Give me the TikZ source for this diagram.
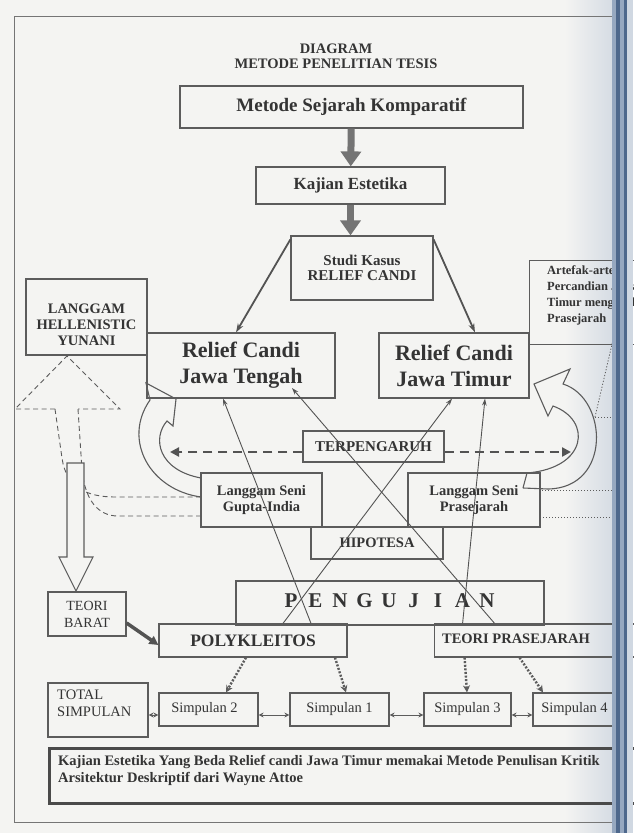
\documentclass[tikz,border=0pt]{standalone}
\usepackage{fontspec}
\setmainfont{Liberation Serif}
\usetikzlibrary{arrows.meta,calc}
\definecolor{bg}{RGB}{244,244,242}
\definecolor{ln}{RGB}{92,92,92}
\definecolor{tx}{RGB}{52,52,52}
\definecolor{edgeL}{RGB}{214,220,228}
\definecolor{edgeA}{RGB}{150,168,192}
\definecolor{edgeB}{RGB}{78,104,140}
\definecolor{edgeC}{RGB}{208,216,226}
\newcommand{\myfs}[2]{\fontsize{#1}{#2}\selectfont}
\begin{document}
\begin{tikzpicture}[x=1pt,y=-1pt,
  box/.style={draw=ln,line width=1.2pt,inner sep=0pt,align=center,text=tx},
  tb/.style={text=tx,inner sep=0pt,align=center},
  fat/.style={draw=ln!85,line width=7pt,-{Triangle[length=15pt,width=20pt]}},
  thin/.style={draw=ln!90!black,line width=0.9pt,-{Stealth[length=7pt,width=4.5pt]}},
  mid/.style={draw=ln!90!black,line width=1.8pt,-{Stealth[length=9pt,width=6pt]}},
  dsh/.style={draw=ln,line width=0.9pt,dash pattern=on 5pt off 3.5pt},
  dotl/.style={draw=ln,line width=0.8pt,dash pattern=on 1.2pt off 1.8pt},
  dotarr/.style={draw=ln,line width=2.4pt,dash pattern=on 2pt off 1.6pt,-{Stealth[length=7pt,width=7pt]}},
  dasharr/.style={draw=ln!90!black,line width=2.8pt,dash pattern=on 9pt off 6pt,-{Triangle[length=9pt,width=9pt]}},
  dbl/.style={draw=ln,line width=1pt,{Stealth[length=5pt,width=5pt]}-{Stealth[length=5pt,width=5pt]}},
  hollow/.style={draw=ln,line width=1.1pt},
  bold14/.style={font={\bfseries\myfs{14.5}{16}}},
]
\useasboundingbox (0,0) rectangle (633,833);
\fill[bg] (0,0) rectangle (633,833);
\shade[left color=bg,right color=edgeL] (565,0) rectangle (612,833);
\draw[ln!85,line width=1pt] (14,16) rectangle (625,822);

% dashed hollow arrow (Gupta -> Hellenistic)
\draw[dsh] (55,409) -- (15,409) -- (67,356) -- (120,409) -- (78,409);
\draw[dsh] (55,409) -- (62,458) .. controls (66,488) and (88,497) .. (115,497) -- (201,497);
\draw[dsh] (78,409) -- (82,470) .. controls (85,500) and (98,516) .. (118,516) -- (201,516);

% right dotted structure
\draw[dotl] (542,490) -- (617,490);
\draw[dotl] (540,517) -- (617,517);
\draw[dotl] (595,417) -- (617,417);
\draw[dotl] (595,417) -- (613,340);

% title
\node[tb,font={\bfseries\myfs{14.5}{15}}] (title) at (336,56) {DIAGRAM\\METODE PENELITIAN TESIS};

% boxes
\node[box,minimum width=343pt,minimum height=42pt,font={\bfseries\myfs{19}{21}}] (metode) at (351.5,107) {Metode Sejarah Komparatif};
\node[box,minimum width=189pt,minimum height=37pt,font={\bfseries\myfs{17}{18}}] (kajian) at (350.5,185.5) {Kajian Estetika};
\node[box,minimum width=142pt,minimum height=64pt,font={\bfseries\myfs{15}{15.5}}] (studi) at (362,268) {Studi Kasus\\RELIEF CANDI};

\node[box,minimum width=112pt,minimum height=84pt,anchor=north west] (artefak) at (529,260) {};
\node[tb,anchor=north west,align=left,font={\bfseries\myfs{12.5}{16}}] (artefaktxt) at (547,265) {Artefak-artefak\\Percandian Jawa\\Timur mengarah\\Prasejarah};

\node[box,minimum width=121pt,minimum height=76pt] (hellen) at (86.5,317) {};
\node[tb,bold14] (hellentxt) at (86.5,325) {LANGGAM\\HELLENISTIC\\YUNANI};

\node[box,minimum width=188pt,minimum height=65pt,font={\bfseries\myfs{22}{26}}] (tengah) at (241,365.5) {Relief Candi\\Jawa Tengah};
\node[box,minimum width=150pt,minimum height=65pt,font={\bfseries\myfs{22}{26}}] (timur) at (454,365.5) {Relief Candi\\Jawa Timur};

\node[box,minimum width=141pt,minimum height=31pt,font={\bfseries\myfs{15}{16}}] (terpeng) at (373.5,446.5) {TERPENGARUH};
\node[box,minimum width=121pt,minimum height=54pt,bold14] (gupta) at (261.5,500) {Langgam Seni\\Gupta-India};
\node[box,minimum width=132pt,minimum height=54pt,bold14] (pras) at (474,500) {Langgam Seni\\Prasejarah};
\node[box,minimum width=132pt,minimum height=32pt,font={\bfseries\myfs{14.5}{16}}] (hipo) at (377,543) {HIPOTESA};

\node[box,minimum width=308pt,minimum height=44pt] (pengujian) at (390,603) {};
\foreach \L [count=\i] in {P,E,N,G,U,J,I,A,N}
  \node[tb,font={\bfseries\myfs{21}{24}}] (pg\i) at ({291+24.5*(\i-1)},601) {\L};

\node[box,minimum width=188pt,minimum height=33pt,font={\bfseries\myfs{17.5}{18}}] (poly) at (253,640.5) {POLYKLEITOS};
\node[box,minimum width=200pt,minimum height=33pt,anchor=west] (teoripras) at (434,640.5) {};
\node[tb,font={\bfseries\myfs{14.5}{16}}] (teoriprastxt) at (516,639) {TEORI PRASEJARAH};

\node[box,minimum width=78pt,minimum height=44pt,font={\myfs{14}{17}}] (teoribarat) at (87,614) {TEORI\\BARAT};

\node[box,minimum width=100pt,minimum height=54pt] (total) at (98,710) {};
\node[tb,anchor=west,align=left,font={\myfs{14.5}{17}}] (totaltxt) at (57,703.5) {TOTAL\\SIMPULAN};
\node[box,minimum width=99pt,minimum height=33pt,font={\myfs{14.5}{16}}] (s2) at (208.5,709.5) {Simpulan 2\hspace{8pt}};
\node[box,minimum width=99pt,minimum height=33pt,font={\myfs{14.5}{16}}] (s1) at (339.5,709.5) {Simpulan 1};
\node[box,minimum width=87pt,minimum height=33pt,font={\myfs{14.5}{16}}] (s3) at (467.5,709.5) {Simpulan 3};
\node[box,minimum width=83pt,minimum height=33pt,font={\myfs{14.5}{16}}] (s4) at (574.5,709.5) {Simpulan 4};

\node[box,draw=ln!80!black,line width=2.5pt,minimum width=590pt,minimum height=55pt,anchor=north west] (note) at (48,747) {};
\node[tb,anchor=north west,align=left,font={\bfseries\myfs{14.5}{17}}] (notetxt) at (58,755) {Kajian Estetika Yang Beda Relief candi Jawa Timur memakai Metode Penulisan Kritik\\Arsitektur Deskriptif dari Wayne Attoe};

% thick arrows
\draw[fat] (metode) -- (kajian);
\draw[fat] (kajian.south) -- (kajian.south |- studi.north);

% studi -> relief
\draw[mid] ([yshift=-4pt]studi.north west) -- ([xshift=-5pt]tengah.north);
\draw[mid] ([yshift=-4pt]studi.north east) -- ([xshift=21pt]timur.north);

% crossing lines
\draw[thin] ([xshift=58pt]poly.north) -- ([xshift=-18pt]tengah.south);
\draw[thin] ([xshift=30pt]poly.north) -- ([xshift=-2pt]timur.south);
\draw[thin] ([xshift=-40pt]teoripras.north) -- ([xshift=51pt,yshift=-22.5pt]tengah.center);
\draw[thin] ([xshift=-72pt]teoripras.north) -- ([xshift=31pt]timur.south);

% terpengaruh dashed arrows
\coordinate (lhook) at (170,452);
\coordinate (rhook) at (571,452);
\draw[dasharr] ([yshift=-5.5pt]terpeng.west) -- (lhook);
\draw[dasharr] ([yshift=-5.5pt]terpeng.east) -- (rhook);

% curved hollow arrows
\draw[hollow] (201,497) .. controls (150,490) and (122,440) .. (150,400) -- (146,383) -- (176,399) -- (173,426) -- (167,421) .. controls (152,438) and (158,470) .. (201,478);
\draw[hollow] (523,488) -- (527,473) .. controls (588,468) and (592,420) .. (553,406) -- (548,416) -- (534,384) -- (570,369) -- (563,384) .. controls (608,398) and (612,488) .. (548,489) -- (523,488);

% solid hollow arrow down to TEORI BARAT
\draw[hollow,fill=bg] (67,463) -- (67,557) -- (59,557) -- (76,591) -- (93,557) -- (84,557) -- (84,463) -- cycle;

% teori barat -> polykleitos
\draw[draw=ln!90!black,line width=3.5pt,-{Triangle[length=9pt,width=9pt]}] ([yshift=-9pt]teoribarat.east) -- ([yshift=-4.5pt]poly.west);

% dotted arrows to simpulan
\draw[dotarr] ([xshift=-7pt]poly.south) -- ([xshift=17.5pt]s2.north);
\draw[dotarr] ([xshift=82pt]poly.south) -- ([xshift=6.5pt]s1.north);
\draw[dotarr] ([xshift=-70pt]teoripras.south) -- ([xshift=-0.5pt]s3.north);
\draw[dotarr] ([xshift=-15pt]teoripras.south) -- ([xshift=-31.5pt]s4.north);

% double arrows
\draw[dbl] ([yshift=-5pt]total.east) -- ([yshift=-5.5pt]s2.west);
\draw[dbl] ([yshift=-5.5pt]s2.east) -- ([yshift=-5.5pt]s1.west);
\draw[dbl] ([yshift=-5.5pt]s1.east) -- ([yshift=-5.5pt]s3.west);
\draw[dbl] ([yshift=-5.5pt]s3.east) -- ([yshift=-5.5pt]s4.west);

% page edge band
\fill[edgeA] (612,0) rectangle (627,833);
\fill[edgeB] (615.5,0) rectangle (619.5,833);
\fill[edgeB] (624,0) rectangle (626.5,833);
\fill[edgeC] (627,0) rectangle (633,833);
\end{tikzpicture}
\end{document}
